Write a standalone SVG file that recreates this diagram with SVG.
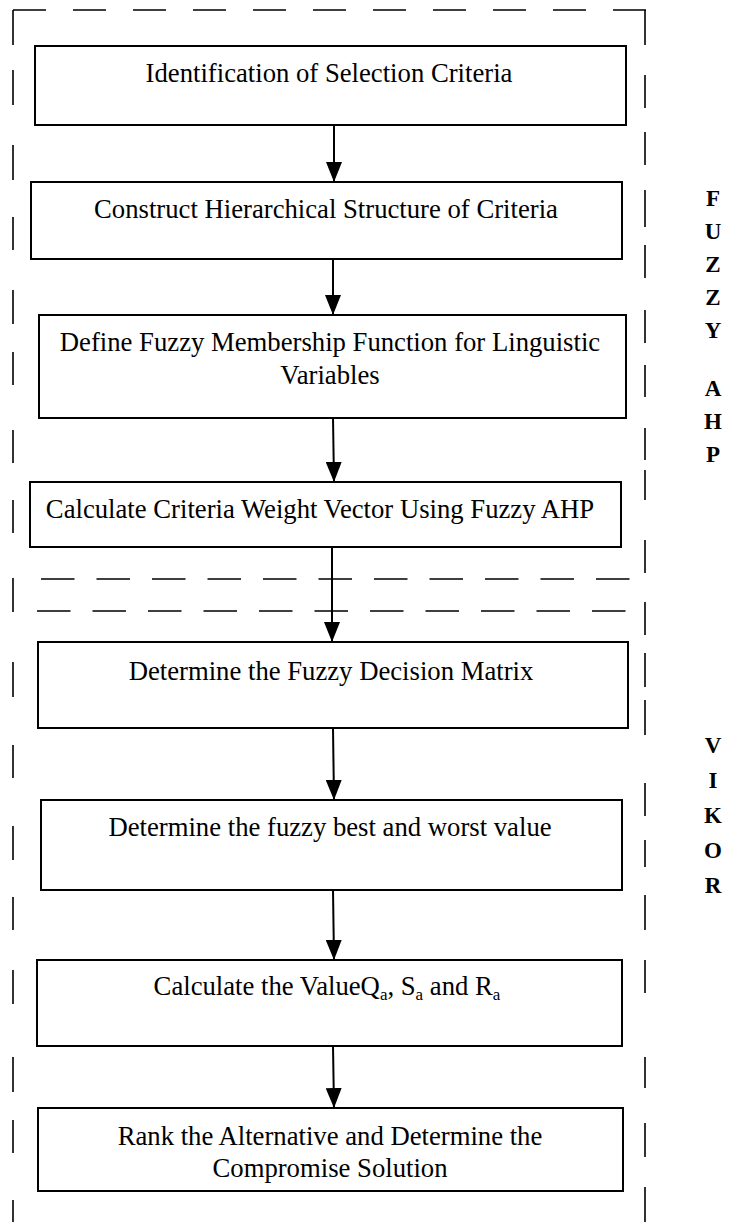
<svg xmlns="http://www.w3.org/2000/svg" width="731" height="1222" viewBox="0 0 731 1222">
<style>
.box{fill:#fff;stroke:#000;stroke-width:2}
.t{font-family:"Liberation Serif","Times New Roman",serif;font-size:26.7px;fill:#000;text-anchor:middle}
.l{font-family:"Liberation Serif","Times New Roman",serif;font-size:23px;font-weight:bold;fill:#000;text-anchor:middle}
.ds{fill:none;stroke:#000;stroke-width:1.6}
.dh{fill:none;stroke:#000;stroke-width:1.6;stroke-dasharray:33 27}
.dh2{fill:none;stroke:#000;stroke-width:1.6;stroke-dasharray:33.5 22}
.c{stroke:#000;stroke-width:2;fill:none;marker-end:url(#ah)}
</style>
<defs>
<marker id="ah" markerUnits="userSpaceOnUse" markerWidth="20" markerHeight="16" refX="20" refY="8" orient="auto">
<path d="M0,0 L20,8 L0,16 Z" fill="#000"/>
</marker>
</defs>
<g id="frames">
<path class="dh" d="M13,10 H646"/>
<path class="ds" d="M13,10 V45 M13,70 V105 M13,145 V180 M13,217 V250 M13,290 V324 M13,352 V385 M13,430 V463 M13,500 V533 M13,578 V612 M13,662 V697 M13,745 V778 M13,826 V860 M13,897 V930 M13,970 V1004 M13,1057 V1092 M13,1120 V1153 M13,1200 V1222"/>
<path class="ds" d="M645,10 V45 M645,75 V108 M645,132 V165 M645,190 V227 M645,245 V278 M645,310 V343 M645,365 V397 M645,428 V460 M645,470 V500 M645,540 V573 M645,602 V635 M645,653 V687 M645,700 V735 M645,783 V816 M645,840 V867 M645,895 V930 M645,960 V993 M645,1057 V1088 M645,1123 V1157 M645,1187 V1222"/>
<path class="dh2" d="M41,579 H630"/>
<path class="dh2" d="M37,611 H628"/>
</g>
<g id="connectors">
<path class="c" d="M334,125 L334,182"/>
<path class="c" d="M333,259 L333,315"/>
<path class="c" d="M333,418 L334,482"/>
<path class="c" d="M332,547 L332,642"/>
<path class="c" d="M333,728 L334,800"/>
<path class="c" d="M333,890 L334,960"/>
<path class="c" d="M333,1046 L334,1108"/>
</g>
<g id="n1"><rect class="box" x="35" y="46" width="591" height="79"/><text class="t" x="329" y="82">Identification of Selection Criteria</text></g>
<g id="n2"><rect class="box" x="31" y="182" width="591" height="77"/><text class="t" x="326" y="218">Construct Hierarchical Structure of Criteria</text></g>
<g id="n3"><rect class="box" x="39" y="315" width="587" height="103"/><text class="t" x="330" y="351">Define Fuzzy Membership Function for Linguistic</text><text class="t" x="330" y="384">Variables</text></g>
<g id="n4"><rect class="box" x="30" y="482" width="591" height="65"/><text class="t" x="320" y="518">Calculate Criteria Weight Vector Using Fuzzy AHP</text></g>
<g id="n5"><rect class="box" x="38" y="642" width="590" height="86"/><text class="t" x="331" y="680">Determine the Fuzzy Decision Matrix</text></g>
<g id="n6"><rect class="box" x="41" y="800" width="581" height="90"/><text class="t" x="330" y="836">Determine the fuzzy best and worst value</text></g>
<g id="n7"><rect class="box" x="37" y="960" width="585" height="86"/><text class="t" x="327" y="995">Calculate the ValueQ<tspan font-size="17" dy="5">a</tspan><tspan dy="-5">, S</tspan><tspan font-size="17" dy="5">a</tspan><tspan dy="-5"> and R</tspan><tspan font-size="17" dy="5">a</tspan></text></g>
<g id="n8"><rect class="box" x="38" y="1108" width="585" height="83"/><text class="t" x="330" y="1145">Rank the Alternative and Determine the</text><text class="t" x="330" y="1177">Compromise Solution</text></g>
<g id="label-fuzzy-ahp">
<text class="l" x="713" y="206">F</text>
<text class="l" x="713" y="239">U</text>
<text class="l" x="713" y="272">Z</text>
<text class="l" x="713" y="305">Z</text>
<text class="l" x="713" y="338">Y</text>
<text class="l" x="713" y="396">A</text>
<text class="l" x="713" y="429">H</text>
<text class="l" x="713" y="462">P</text>
</g>
<g id="label-vikor">
<text class="l" x="713" y="753">V</text>
<text class="l" x="713" y="788">I</text>
<text class="l" x="713" y="823">K</text>
<text class="l" x="713" y="858">O</text>
<text class="l" x="713" y="893">R</text>
</g>
</svg>
